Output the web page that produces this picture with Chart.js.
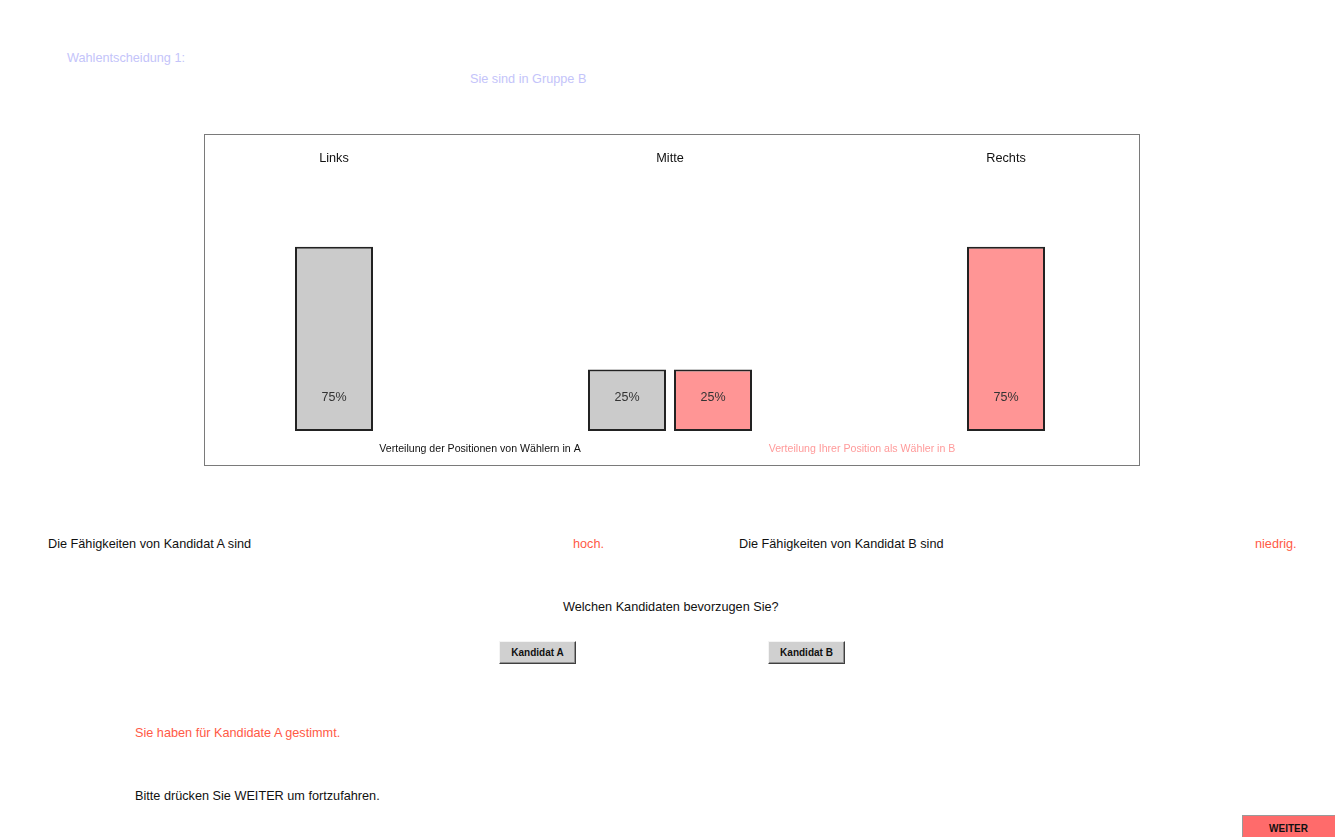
<!DOCTYPE html>
<html>
<head>
<meta charset="utf-8">
<script src="https://cdn.jsdelivr.net/npm/chart.js@4"></script>
<style>
  html, body { margin: 0; padding: 0; background: #fff; width: 1335px; height: 837px; overflow: hidden; }
  body { position: relative; font-family: "Liberation Sans", Arial, sans-serif; font-size: 12.7px; color: #111; }
  .t { position: absolute; white-space: nowrap; line-height: 16px; }
  .lav { color: #c4c4fa; }
  .red { color: #ff5a46; }
  #box { position: absolute; left: 204px; top: 134px; width: 934px; height: 330px; border: 1px solid #7a7a7a; }
  #wrap { position: absolute; left: 166px; top: 134px; width: 1008px; height: 331px; }
  .btn { position: absolute; background: #d0d0d0; border: 1px solid; border-color: #f4f4f4 #404040 #404040 #f4f4f4;
         box-shadow: inset -1px -1px 0 #909090; font-family: "Liberation Sans Narrow", "Liberation Sans", Arial, sans-serif;
         font-weight: bold; font-size: 10px; text-align: center; box-sizing: border-box; color: #111; }
</style>
</head>
<body>
<div class="t lav" style="left:67px; top:50px;">Wahlentscheidung 1:</div>
<div class="t lav" style="left:470px; top:71px;">Sie sind in Gruppe B</div>

<div id="box"></div>
<div id="wrap"><canvas id="c"></canvas></div>

<div class="t" style="left:48px; top:536px;">Die Fähigkeiten von Kandidat A sind</div>
<div class="t red" style="left:573px; top:536px;">hoch.</div>
<div class="t" style="left:739px; top:536px;">Die Fähigkeiten von Kandidat B sind</div>
<div class="t red" style="left:1255px; top:536px;">niedrig.</div>

<div class="t" style="left:563px; top:599px;">Welchen Kandidaten bevorzugen Sie?</div>

<div class="btn" style="left:499px; top:641px; width:77px; height:23px; line-height:21px;">Kandidat A</div>
<div class="btn" style="left:768px; top:641px; width:77px; height:23px; line-height:21px;">Kandidat B</div>

<div class="t red" style="left:135px; top:725px;">Sie haben für Kandidate A gestimmt.</div>
<div class="t" style="left:135px; top:788px;">Bitte drücken Sie WEITER um fortzufahren.</div>

<div class="btn" style="left:1242px; top:815px; width:93px; height:22px; line-height:25px; background:#ff6b6b; border-color:#9a9a9a #ff6b6b #ff6b6b #9a9a9a; box-shadow:none;">WEITER</div>

<script>
// ---- data ----
const categories = ['Links', 'Mitte', 'Rechts'];
const seriesALabel = 'Verteilung der Positionen von Wählern in A';
const seriesBLabel = 'Verteilung Ihrer Position als Wähler in B';
const seriesA = [75, 25, null];
const seriesB = [null, 25, 75];

const valueLabels = {
  id: 'valueLabels',
  afterDatasetsDraw(chart) {
    const ctx = chart.ctx;
    ctx.save();
    ctx.font = '12.5px "Liberation Sans", Arial, sans-serif';
    ctx.fillStyle = '#333';
    ctx.textAlign = 'center';
    ctx.textBaseline = 'middle';
    chart.data.datasets.forEach((ds, di) => {
      chart.getDatasetMeta(di).data.forEach((el, i) => {
        const v = ds.data[i];
        if (v === null || v === undefined) return;
        ctx.fillText(v + '%', el.x, el.base - 33);
      });
    });
    ctx.restore();
  }
};

const bottomLegend = {
  id: 'bottomLegend',
  afterDraw(chart, args, opts) {
    const ctx = chart.ctx;
    const a = chart.chartArea;
    ctx.save();
    ctx.font = '10.6px "Liberation Sans", Arial, sans-serif';
    ctx.textAlign = 'center';
    ctx.textBaseline = 'middle';
    chart.data.datasets.forEach((ds, di) => {
      ctx.fillStyle = opts.colors[di];
      ctx.fillText(ds.label, a.left + a.width * opts.xFrac[di], a.bottom + 18);
    });
    ctx.restore();
  }
};

new Chart(document.getElementById('c'), {
  type: 'bar',
  data: {
    labels: categories,
    datasets: [
      { label: seriesALabel, data: seriesA, backgroundColor: '#cbcbcb', borderColor: '#222', borderWidth: 2, borderSkipped: false },
      { label: seriesBLabel, data: seriesB, backgroundColor: '#ff9595', borderColor: '#222', borderWidth: 2, borderSkipped: false }
    ]
  },
  options: {
    responsive: true,
    maintainAspectRatio: false,
    animation: false,
    skipNull: true,
    categoryPercentage: 0.512,
    barPercentage: 1,
    maxBarThickness: 78,
    layout: { padding: { top: 6, bottom: 34, left: 0, right: 0 } },
    plugins: {
      legend: { display: false },
      tooltip: { enabled: false },
      bottomLegend: { xFrac: [0.3115, 0.6905], colors: ['#111', '#ff9a9a'] }
    },
    scales: {
      x: {
        position: 'top',
        grid: { display: false },
        border: { display: false },
        ticks: { color: '#111', font: { size: 12.7, family: '"Liberation Sans", Arial, sans-serif' }, padding: 11 }
      },
      y: {
        display: false,
        min: 0,
        max: 100
      }
    }
  },
  plugins: [valueLabels, bottomLegend]
});
</script>
</body>
</html>
